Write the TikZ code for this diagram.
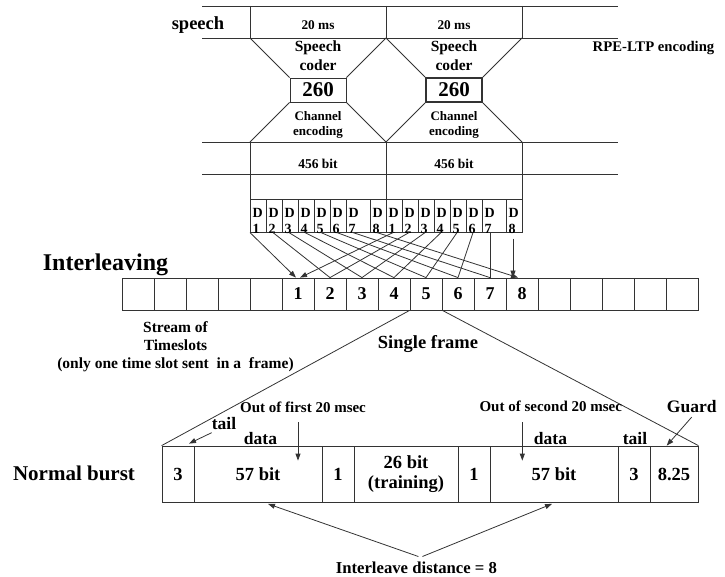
\documentclass[tikz,border=0pt]{standalone}
\usepackage{fontspec}
\setmainfont{Liberation Serif}
\usetikzlibrary{arrows.meta,calc}

\tikzset{
  ln/.style={line width=0.8pt, draw=black!80},
  txt/.style args={#1/#2}{font=\bfseries\fontsize{#1}{#2}\selectfont, inner sep=0pt, align=center},
  cell/.style={ln, inner sep=0pt, minimum height=#1},
  arr/.style={ln, -{Triangle[length=7pt,width=5pt]}},
}

\begin{document}
\begin{tikzpicture}[x=1pt,y=-1pt]
\useasboundingbox (0,0) rectangle (725,577);

\foreach \y in {6,38,142,174}
  \draw[ln] (202,\y) -- (618,\y);
\foreach \x in {250,386,522} {
  \draw[ln] (\x,6) -- (\x,38);
  \draw[ln] (\x,142) -- (\x,199.3);
}

\node[cell=24, minimum width=56, txt=21/24] (cod1) at (318,90) {260};
\node[cell=24, minimum width=56, txt=21/24, line width=1.8pt] (cod2) at (454,90) {260};
\foreach \c/\xl in {cod1/250,cod2/386}
  \draw[ln] (\xl,38) -- (\c.north west) (\c.north east) -- (\xl+136,38)
            (\xl,142) -- (\c.south west) (\c.south east) -- (\xl+136,142);

\foreach \c/\xm in {a/318,b/454} {
  \node[txt=13.3/16, anchor=base] (ms\c) at (\xm,30) {20 ms};
  \node[txt=15.5/19] (sc\c) at (\xm,55.5) {Speech\\coder};
  \node[txt=13/15] (ce\c) at (\xm,124.5) {Channel\\encoding};
  \node[txt=13.5/16, anchor=base] (bt\c) at (\xm,168.5) {456 bit};
}
\node[txt=18.5/22, anchor=base] (sp) at (198,29.5) {speech};
\node[txt=14.7/18, anchor=base] (rpe) at (653.5,51.7) {RPE-LTP encoding};

% sub-blocks D1..D8 of both 20 ms frames
\foreach \h/\off in {a/0,b/136}
  \foreach \k/\xl/\w in {1/250/16,2/266/16,3/282/16,4/298/16,5/314/16,6/330/16,7/346/24,8/370/16} {
    \node[cell=32.5, minimum width=\w, anchor=north west] (d\h\k) at (\xl+\off,199.3) {};
    \node[txt=14/16, anchor=base west] (dD\h\k) at ($(d\h\k.north west)+(2.5,18)$) {D};
    \node[txt=14/16, anchor=base west] (dn\h\k) at ($(d\h\k.north west)+(2.5,34)$) {\k};
  }

\node[txt=24/28, anchor=base] (ilv) at (105.5,270) {Interleaving};
\foreach \i in {1,...,18}
  \node[cell=32, minimum width=32] (s\i) at (106+32*\i,294) {};
\foreach \i in {1,...,8}
  \node[txt=18/20] (n\i) at (266+32*\i,294) {\i};

\draw[arr] (da1.south west) -- ([xshift=-2pt]s6.north);
\foreach \k in {2,...,7} {
  \pgfmathtruncatemacro\j{\k+5}
  \draw[ln] ($(da\k.south west)+(7,0)$) -- (s\j.north);
}
\draw[arr] ($(da8.south west)+(7,0)$) -- ([xshift=-4pt]s13.north);
\draw[arr] ($(db1.south west)+(7,0)$) -- ([xshift=2pt]s6.north);
\foreach \k in {2,...,6} {
  \pgfmathtruncatemacro\j{\k+5}
  \draw[ln] ($(db\k.south west)+(7,0)$) -- (s\j.north);
}
\draw[ln] ($(db7.south west)+(8,0)$) -- (s12.north);
\draw[arr] ($(db8.south west)+(7,6)$) coordinate (q8) -- (q8 |- s13.north);

\node[txt=15.5/18] (strm) at (175.5,347) {Stream of\\Timeslots\\(only one time slot sent~ in a~ frame)};
\node[txt=18.5/22, anchor=base] (sf) at (428,348.5) {Single frame};

% normal burst
\foreach \n/\xl/\xr/\t in {1/162/194/3,2/194/322/57 bit,3/322/354/1,4/354/458/{26 bit\\(training)},5/458/490/1,6/490/618/57 bit,7/618/650/3,8/650/698/8.25} {
  \pgfmathsetmacro\w{\xr-\xl}
  \node[cell=56, minimum width=\w, txt=18.5/20] (c\n) at ({(\xl+\xr)/2},474) {\t};
}
\draw[ln] (s10.south west) -- (c1.north west) (s10.south east) -- (c8.north east);

\node[txt=21/24, anchor=base] (nb) at (74,480) {Normal burst};
\node[txt=15/18, anchor=base] (o1) at (303,412.7) {Out of first 20 msec};
\node[txt=15/18, anchor=base] (o2) at (550.8,411.7) {Out of second 20 msec};
\node[txt=17.5/20, anchor=base] (tl1) at (224,429.3) {tail};
\node[txt=17.5/20, anchor=base] (dt1) at (260.5,444) {data};
\node[txt=17.5/20, anchor=base] (dt2) at (550.5,444) {data};
\node[txt=17.5/20, anchor=base] (tl2) at (635,444) {tail};
\node[txt=17.5/20, anchor=base] (gd) at (691.7,412.7) {Guard};
\node[txt=16.7/20, anchor=base] (idist) at (416.4,573.3) {Interleave distance = 8};

\draw[arr] ($(tl1.south west)+(0,3)$) -- ($(c1.north)+(11,-2)$);
\draw[arr] ($(o1.south)+(-5,9)$) -- ($(c2.north)+(40,15)$);
\draw[arr] ($(o2.south)+(-28.5,10)$) -- ($(c6.north)+(-31.7,15)$);
\draw[arr] ($(gd.south)+(0,4)$) -- ($(c8.north)+(-7.3,0)$);
\draw[arr] ($(idist.north)+(2,-5)$) -- ($(c2.south)+(10,1.5)$);
\draw[arr] ($(idist.north)+(6,-5)$) -- ($(c6.south)+(-2,1.5)$);
\end{tikzpicture}
\end{document}
